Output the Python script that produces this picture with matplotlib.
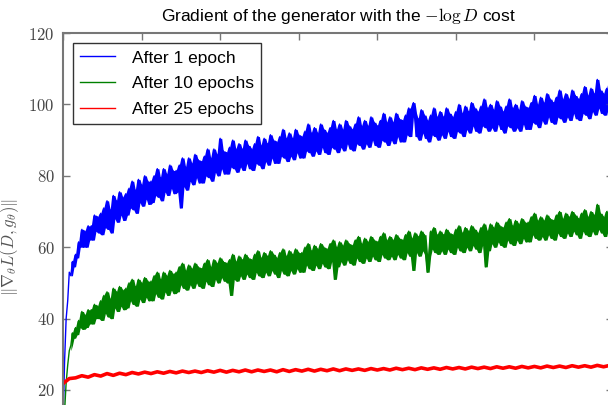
#!/usr/bin/env python3

import numpy as np
import matplotlib.pyplot as plt
from matplotlib.ticker import FuncFormatter, MultipleLocator

plt.rcParams['mathtext.fontset'] = 'cm'
plt.rcParams['font.family'] = ['Liberation Sans', 'DejaVu Sans']

step = 10  # iterations between stored samples

epoch1 = [
    10, 28, 40, 45, 53, 52, 56, 54.5, 58, 57, 61.5, 60, 65, 60, 64.5, 60, 66, 62, 66, 62, 69, 64.5, 68.5, 64,
    69.5, 63.5, 71, 65.5, 73, 65, 70.5, 64,
    74.5, 68, 73, 67, 75.5, 69, 74, 67.5,
    75, 69, 76.5, 71, 78.5, 70.5, 76, 69.5,
    79, 72.5, 77.5, 71.5, 80, 73.5, 78.5, 72,
    78.5, 72.5, 80, 74.5, 82, 74, 79.5, 73,
    82, 75.5, 80.5, 74.5, 83, 76.5, 81.5, 75,
    81.5, 75.5, 83, 71, 85, 77, 82.5, 76,
    85, 78.5, 83.5, 77.5, 86, 79.5, 84.5, 78,
    84, 78, 85.5, 80, 87.5, 79.5, 85, 78.5,
    87.5, 81, 86, 80, 90.5, 82, 87, 80.5,
    86.5, 80.5, 88, 82.5, 90, 82, 87.5, 81,
    89, 82.5, 87.5, 81.5, 90, 83.5, 88.5, 82,
    87.5, 81.5, 89, 83.5, 91, 83, 88.5, 82,
    90.5, 84, 89, 83, 91.5, 85, 90, 83.5,
    89.5, 83.5, 91, 85.5, 93, 85, 90.5, 84,
    92, 85.5, 90.5, 84.5, 93, 86.5, 91.5, 85,
    91, 85, 92.5, 87, 94.5, 86.5, 92, 85.5,
    93.5, 87, 92, 86, 94.5, 88, 93, 86.5,
    92, 86, 93.5, 88, 95.5, 87.5, 93, 86.5,
    94.5, 88, 93, 87, 95.5, 89, 94, 87.5,
    93, 87, 94.5, 89, 96.5, 88.5, 94, 87.5,
    95.5, 89, 94, 88, 96.5, 90, 95, 88.5,
    94, 88, 95.5, 90, 97.5, 89.5, 95, 88.5,
    96.5, 90, 95, 89, 97.5, 91, 96, 89.5,
    95.5, 89.5, 97, 91.5, 99, 91, 96.5, 100.5,
    97.5, 91, 96, 90, 98.5, 92, 97, 90.5,
    95.5, 89.5, 97, 91.5, 99, 91, 96.5, 90,
    98, 91.5, 96.5, 90.5, 99, 92.5, 97.5, 91,
    96.5, 90.5, 98, 92.5, 100, 92, 97.5, 91,
    99.5, 93, 98, 92, 100.5, 94, 99, 92.5,
    98, 92, 99.5, 94, 101.5, 93.5, 99, 92.5,
    100, 93.5, 98.5, 92.5, 101, 94.5, 99.5, 93,
    98, 92, 99.5, 94, 101.5, 93.5, 99, 92.5,
    100, 93.5, 98.5, 92.5, 101, 94.5, 99.5, 93,
    99, 93, 100.5, 95, 102.5, 94.5, 100, 93.5,
    102, 95.5, 100.5, 94.5, 103, 96.5, 101.5, 95,
    100.5, 94.5, 102, 96.5, 104, 96, 101.5, 95,
    103, 96.5, 101.5, 95.5, 104, 97.5, 102.5, 96,
    101.5, 95.5, 103, 97.5, 105, 97, 102.5, 96,
    104.5, 98, 103, 97, 107, 99, 104, 97.5,
    103, 97, 104.5, 99, 106.5, 98.5, 104, 97.5]

epoch10 = [
    5, 14, 22, 27, 31, 32.5, 36, 34.5, 37.5, 35.5, 39.5, 37.5, 42, 37, 41, 37.5, 42.5, 38.5, 42.5, 38.5, 44, 40, 43.5, 40,
    45, 39.5, 46.5, 41.5, 47.5, 40.5, 45.5, 40,
    48.5, 43, 47.5, 42, 49, 43.5, 48, 42.5,
    48.5, 43, 50, 45, 51, 44, 49, 43.5,
    51, 45.5, 50, 44.5, 51.5, 46, 50.5, 45,
    50.5, 45, 52, 47, 53, 46, 51, 45.5,
    53, 47.5, 52, 46.5, 53.5, 48, 52.5, 47,
    53, 47.5, 54.5, 49.5, 55.5, 48.5, 53.5, 48,
    55, 49.5, 54, 48.5, 55.5, 50, 54.5, 49,
    54, 48.5, 55.5, 50.5, 56.5, 49.5, 54.5, 49,
    56.5, 51, 55.5, 50, 57, 51.5, 56, 50.5,
    55.5, 50, 56.5, 46.5, 58, 51, 56, 50.5,
    57.5, 52, 56.5, 51, 58, 52.5, 57, 51.5,
    56.5, 51, 58, 53, 59, 52, 57, 51.5,
    58.5, 53, 57.5, 52, 59, 53.5, 58, 52.5,
    57, 51.5, 58.5, 53.5, 59.5, 52.5, 57.5, 52,
    59, 53.5, 58, 52.5, 59.5, 54, 58.5, 53,
    58.5, 53, 60, 55, 61, 54, 59, 53.5,
    60.5, 55, 59.5, 54, 61, 55.5, 60, 54.5,
    59.5, 54, 61, 56, 62, 51, 60, 54.5,
    61.5, 56, 60.5, 55, 62, 56.5, 61, 55.5,
    60.5, 55, 62, 57, 63, 56, 61, 55.5,
    62.5, 57, 61.5, 56, 63, 57.5, 62, 56.5,
    61.5, 56, 63, 58, 64, 57, 62, 56.5,
    63, 57.5, 62, 56.5, 63.5, 58, 62.5, 57,
    62, 56.5, 63.5, 58.5, 64.5, 57.5, 62.5, 53.5,
    64, 58.5, 63, 57.5, 64.5, 59, 63.5, 58,
    53, 57.5, 64.5, 59.5, 65.5, 58.5, 63.5, 58,
    64.5, 59, 63.5, 58, 65, 59.5, 64, 58.5,
    63.5, 58, 65, 60, 66, 59, 64, 58.5,
    65.5, 60, 64.5, 59, 66, 60.5, 65, 59.5,
    64, 58.5, 65.5, 60.5, 66.5, 54.5, 64.5, 59,
    66.5, 61, 65.5, 60, 67, 61.5, 66, 60.5,
    65.5, 60, 67, 62, 68, 61, 66, 60.5,
    67.5, 62, 66.5, 61, 68, 62.5, 67, 61.5,
    67, 61.5, 68.5, 63.5, 69.5, 62.5, 67.5, 62,
    68.5, 63, 67.5, 62, 69, 63.5, 68, 62.5,
    67.5, 62, 69, 64, 70, 63, 68, 62.5,
    69.5, 64, 68.5, 63, 70, 64.5, 69, 63.5,
    68, 62.5, 69.5, 64.5, 70.5, 63.5, 68.5, 63,
    70, 64.5, 69, 63.5, 72, 65, 69.5, 64,
    68.5, 63, 70, 65, 71, 64, 69, 63.5]

epoch25 = [21.8, 23.2, 23.4, 24.0, 23.6, 24.3, 23.9, 24.6, 24.1, 24.7, 24.3, 24.9, 24.5, 25.0,
           24.6, 25.1, 24.7, 25.2, 24.8, 25.3, 24.9, 25.3, 24.9, 25.4, 25.0, 25.5, 25.0, 25.5,
           25.1, 25.6, 25.1, 25.6, 25.2, 25.6, 25.1, 25.7, 25.2, 25.7, 25.3, 25.8, 25.3, 25.8,
           25.4, 25.9, 25.4, 25.9, 25.5, 25.9, 25.5, 26.0, 25.6, 26.0, 25.6, 26.1, 25.7, 26.1,
           25.7, 26.2, 25.8, 26.2, 25.8, 26.3, 25.9, 26.3, 25.9, 26.4, 26.0, 26.4, 26.0, 26.5,
           26.1, 26.5, 26.1, 26.6, 26.2, 26.6, 26.2, 26.7, 26.3, 26.7, 26.3, 26.8, 26.4, 26.8,
           26.4, 26.9, 26.5, 26.9]

labels = ['After 1 epoch', 'After 10 epochs', 'After 25 epochs']
colors = ['blue', 'green', 'red']


def band(ax, x, v, color, label):
    # noisy trace drawn as a line, with the gaps between neighbouring
    # samples filled so it reads as a solid band like the original
    v = np.asarray(v, dtype=float)
    prev = np.r_[v[0], v[:-1]]
    nxt = np.r_[v[1:], v[-1]]
    lo = np.minimum.reduce([prev, v, nxt])
    hi = np.maximum.reduce([prev, v, nxt])
    ax.fill_between(x[5:], lo[5:], hi[5:], color=color, lw=0)
    ax.plot(x, v, color=color, lw=1.0, label=label)


fig = plt.figure(figsize=(6.08, 4.05), dpi=100)
# the reference is a crop: axes run past the bottom and right edges
ax = fig.add_axes([63 / 608, 1 - 461.4 / 405, 550 / 608, 428.4 / 405])

x1 = np.arange(len(epoch1)) * step
x10 = np.arange(len(epoch10)) * step
x25 = np.arange(len(epoch25)) * 4 * step

band(ax, x1, epoch1, colors[0], labels[0])
band(ax, x10, epoch10, colors[1], labels[1])
ax.plot(x25, epoch25, color=colors[2], lw=2.6, label=labels[2])

ax.set_xlim(0, 3500)
ax.set_ylim(0, 120)
ax.xaxis.set_major_locator(MultipleLocator(500))
ax.yaxis.set_major_locator(MultipleLocator(20))
ax.yaxis.set_major_formatter(FuncFormatter(lambda v, p: '$%d$' % v if v >= 20 else ''))
ax.tick_params(direction='in', top=True, right=True, labelbottom=False,
               length=5, width=1, color='#777777', labelcolor='#444444',
               labelsize=12, pad=6)
for s in ax.spines.values():
    s.set_color('#777777')
    s.set_linewidth(1.5)

ax.set_ylabel(r'$\|\nabla_\theta L(D, g_\theta)\|$', fontsize=12, color='#555555')
ax.yaxis.set_label_coords(-0.076, 0.5)
ax.set_title(r'Gradient of the generator with the $-\log D$ cost', fontsize=12.5, pad=9)

leg = ax.legend(loc='upper left', fontsize=12.5, fancybox=False, framealpha=1,
                edgecolor='#333333', borderaxespad=0.6, handlelength=2.0,
                handletextpad=1.0, labelspacing=0.62)
leg.get_frame().set_linewidth(1.0)
for ln in leg.get_lines():
    ln.set_linewidth(1.0)

plt.savefig('out.png', dpi=100)
